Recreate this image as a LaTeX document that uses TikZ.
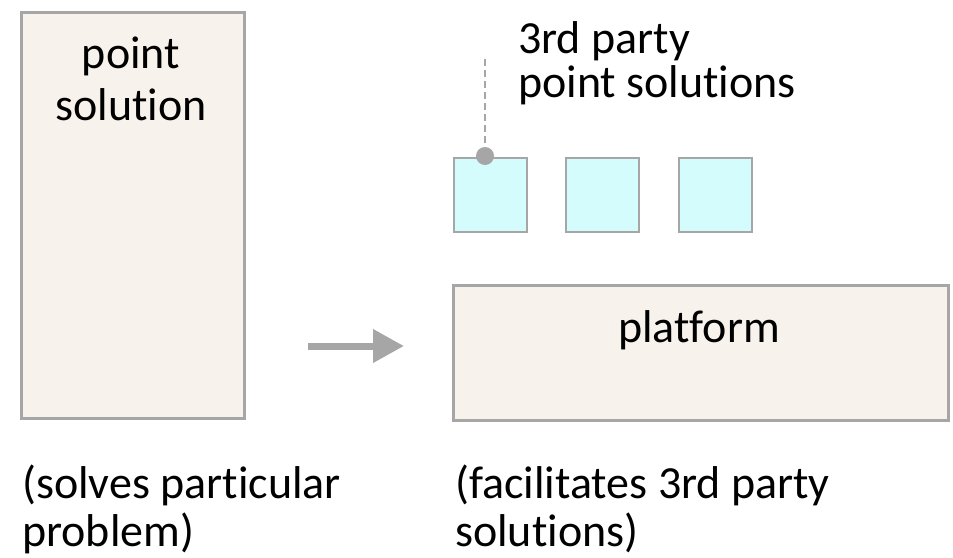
\documentclass[tikz,border=0pt]{standalone}
\usepackage{fontspec}
\setmainfont{Carlito}[Ligatures={NoCommon}]
\usetikzlibrary{arrows.meta}
\definecolor{boxfill}{RGB}{247,243,236}
\definecolor{boxline}{RGB}{166,166,166}
\definecolor{cyanfill}{RGB}{213,252,252}
\tikzset{
  bigbox/.style={draw=boxline, fill=boxfill, line width=3pt, inner sep=0pt, anchor=north west},
  smallbox/.style={draw=boxline, fill=cyanfill, line width=2pt, inner sep=0pt, anchor=north west, minimum width=73pt, minimum height=74pt},
  lbl/.style={inner sep=0pt, font=\fontsize{46}{52}\selectfont},
}
\begin{document}
\begin{tikzpicture}[x=1pt,y=-1pt]
\useasboundingbox (0,0) rectangle (953,557);
% left box
\node[bigbox, minimum width=223pt, minimum height=406pt] (ps) at (19.5,10.5) {};
\node[lbl, anchor=base] (pst1) at (131,68) {point};
\node[lbl, anchor=base] (pst2) at (131,120) {solution};
% small squares
\node[smallbox] (s1) at (452.5,156.5) {};
\node[smallbox] (s2) at (564.5,156.5) {};
\node[smallbox] (s3) at (677.5,156.5) {};
% leader line and dot
\coordinate (lead) at (485,59);
\node[circle, fill=boxline, minimum size=18pt, inner sep=0pt] (dot) at (485,156) {};
\draw[boxline, line width=1.6pt, dash pattern=on 7pt off 4pt] (lead) -- (dot.north);
\node[lbl, anchor=base west] (tp1) at (518,53) {3rd party};
\node[lbl, anchor=base west] (tp2) at (518,97) {point solutions};
% platform
\node[bigbox, minimum width=495pt, minimum height=135pt] (pf) at (451.5,283.5) {};
\node[lbl, anchor=base] (pft) at (699,342) {platform};
% arrow
\coordinate (a1) at (308,346);
\coordinate (a2) at (404,346);
\draw[boxline, line width=7pt, -{Triangle[length=31pt,width=32pt]}] (a1) -- (a2);
% captions
\node[lbl, anchor=base west] (c1) at (22,498) {(solves particular};
\node[lbl, anchor=base west] (c2) at (22,546) {problem)};
\node[lbl, anchor=base west] (c3) at (455,498) {(facilitates 3rd party};
\node[lbl, anchor=base west] (c4) at (455,546) {solutions)};
\end{tikzpicture}
\end{document}
